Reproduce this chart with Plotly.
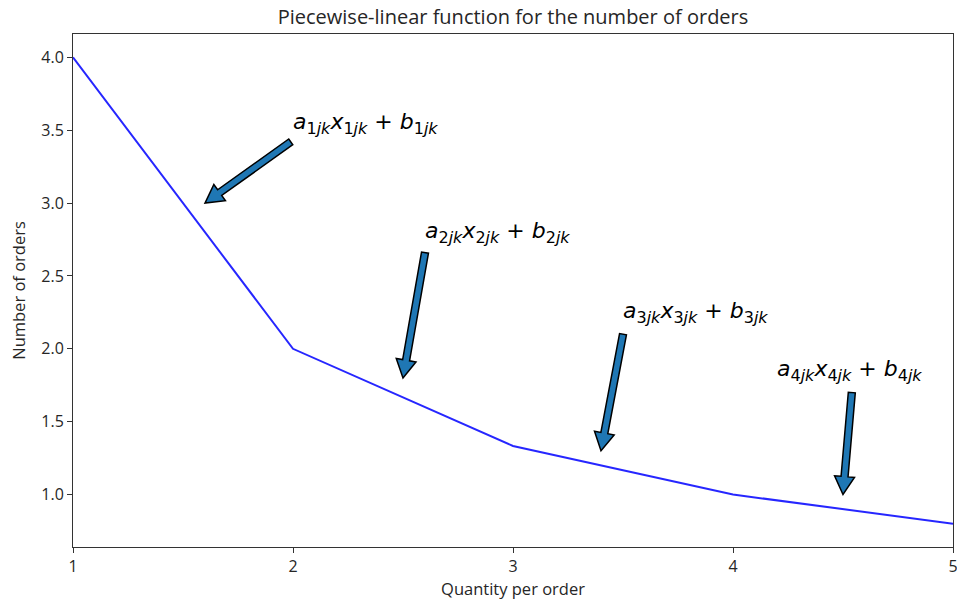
import plotly.graph_objects as go
import math

# ---- data ----
quantity = [1, 2, 3, 4, 5]
orders = [4.0, 2.0, 4/3, 1.0, 0.8]

x_ticks = [1, 2, 3, 4, 5]
y_ticks = [1.0, 1.5, 2.0, 2.5, 3.0, 3.5, 4.0]

label_idx = ["1", "2", "3", "4"]
label_x = [2.0, 2.6, 3.5, 4.2]
label_y = [3.5, 2.75, 2.2, 1.8]
arrow_tail_x = [1.99, 2.6, 3.5, 4.54]
arrow_tail_y = [3.42, 2.66, 2.1, 1.70]
arrow_tip_x = [1.6, 2.5, 3.4, 4.5]
arrow_tip_y = [3.0, 1.8, 1.3, 1.0]

# ---- layout geometry ----
W, H = 957, 601
ML, MR, MT, MB = 73, 4, 34, 54
XR = [1, 5]
YR = [0.64, 4.16]
pw, ph = W - ML - MR, H - MT - MB
sx = pw / (XR[1] - XR[0])
sy = ph / (YR[1] - YR[0])

TXT = "Open Sans"
TCOL = "#262626"

fig = go.Figure()
fig.add_trace(go.Scatter(x=quantity, y=orders, mode="lines",
                         line=dict(color="rgba(0,0,255,0.85)", width=2),
                         showlegend=False, hoverinfo="skip"))

# arrows as filled polygons (built in pixel space, mapped back to data)
shaft_hw, head_hw, head_len = 3.5, 10.0, 18.0
for tx, ty, hx, hy in zip(arrow_tail_x, arrow_tail_y, arrow_tip_x, arrow_tip_y):
    px0, py0 = tx * sx, ty * sy
    px1, py1 = hx * sx, hy * sy
    dx, dy = px1 - px0, py1 - py0
    L = math.hypot(dx, dy)
    ux, uy = dx / L, dy / L
    nx, ny = -uy, ux
    bx, by = px1 - ux * head_len, py1 - uy * head_len
    pts = [
        (px0 + nx * shaft_hw, py0 + ny * shaft_hw),
        (bx + nx * shaft_hw, by + ny * shaft_hw),
        (bx + nx * head_hw, by + ny * head_hw),
        (px1, py1),
        (bx - nx * head_hw, by - ny * head_hw),
        (bx - nx * shaft_hw, by - ny * shaft_hw),
        (px0 - nx * shaft_hw, py0 - ny * shaft_hw),
    ]
    path = "M " + " L ".join(f"{p[0]/sx},{p[1]/sy}" for p in pts) + " Z"
    fig.add_shape(type="path", path=path, xref="x", yref="y",
                  fillcolor="#1f77b4", line=dict(color="black", width=1.5))

for i, lx, ly in zip(label_idx, label_x, label_y):
    sub = f"<sub><span style='font-size:16px'>{i}<i>jk</i></span></sub>"
    txt = f"<i>a</i>{sub}<i>x</i>{sub} + <i>b</i>{sub}"
    fig.add_annotation(x=lx, y=ly, xref="x", yref="y", text=txt, showarrow=False,
                       xanchor="left", yanchor="middle", yshift=7, xshift=-2,
                       font=dict(family="DejaVu Sans", size=22, color="black"))

axis_common = dict(showline=True, linecolor="#333333", linewidth=1, mirror=True,
                   ticks="outside", ticklen=5, tickcolor="#333333", showgrid=False,
                   zeroline=False, ticklabeloverflow="allow", automargin=False,
                   tickfont=dict(family=TXT, size=16, color=TCOL))

fig.update_layout(
    width=W, height=H,
    margin=dict(l=ML, r=MR, t=MT, b=MB, autoexpand=False),
    plot_bgcolor="white", paper_bgcolor="white",
    title=dict(text="Piecewise-linear function for the number of orders",
               x=(ML + pw / 2) / W, xanchor="center", y=1 - 17 / H, yanchor="middle",
               yref="container",
               font=dict(family=TXT, size=20, color=TCOL)),
    xaxis=dict(range=XR, tickvals=x_ticks, ticktext=[str(v) for v in x_ticks],
               title=dict(text="Quantity per order", standoff=3,
                          font=dict(family=TXT, size=16.5, color=TCOL)),
               **axis_common),
    yaxis=dict(range=YR, tickvals=y_ticks, ticktext=[f"{v:.1f}" for v in y_ticks],
               title=dict(text="Number of orders", standoff=11,
                          font=dict(family=TXT, size=16.5, color=TCOL)),
               **axis_common),
)

fig.write_html("out.html")
